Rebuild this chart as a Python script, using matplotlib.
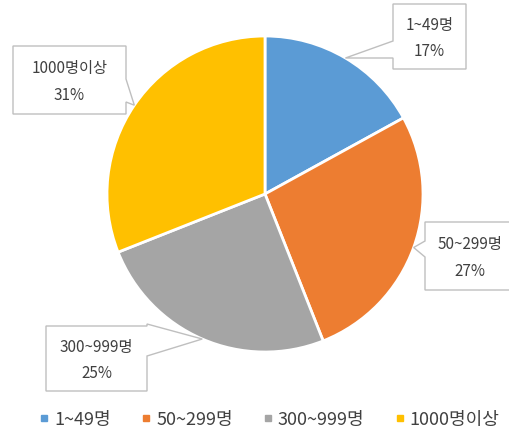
import matplotlib
matplotlib.use("Agg")
import matplotlib.pyplot as plt
from matplotlib.patches import Polygon
from matplotlib.lines import Line2D
import numpy as np

plt.rcParams['font.family'] = ['Noto Sans CJK KR', 'DejaVu Sans']

labels = ['1~49명', '50~299명', '300~999명', '1000명이상']
values = [17, 27, 25, 31]
colors = ['#5B9BD5', '#ED7D31', '#A5A5A5', '#FFC000']

W, H = 509, 439
fig = plt.figure(figsize=(W / 100, H / 100), dpi=100)
ax = fig.add_axes([0, 0, 1, 1])

cx, cy, r = 265, H - 195, 158
ax.pie(values, colors=colors, startangle=90, counterclock=False,
       center=(cx, cy), radius=r, frame=True,
       wedgeprops=dict(edgecolor='white', linewidth=2))
ax.set_xlim(0, W)
ax.set_ylim(0, H)
ax.set_aspect('equal')
ax.axis('off')

# callout boxes: (left, top, right, bottom) in pixels from top, pointer side, pointer base
boxes = [
    ((393, 5, 466, 70), 'left', (42, 59)),
    ((425, 223, 515, 291), 'left', (242, 258)),
    ((46, 327, 147, 392), 'right', (325, 357)),
    ((13, 47, 126, 115), 'right', (80, 103)),
]

total = sum(values)
cum = 0
for lab, v, (box, side, (p0, p1)) in zip(labels, values, boxes):
    mid = 90 - (cum + v / 2) / total * 360
    cum += v
    tx = cx + r * np.cos(np.radians(mid))
    ty = cy + r * np.sin(np.radians(mid))
    l, t, rr, b = box
    if side == 'left':
        pts = [(l, t), (rr, t), (rr, b), (l, b), (l, p1), (tx, H - ty), (l, p0)]
    else:
        pts = [(l, t), (rr, t), (rr, p0), (tx, H - ty), (rr, p1), (rr, b), (l, b)]
    pts = [(x, H - y) for x, y in pts]
    ax.add_patch(Polygon(pts, closed=True, facecolor='white',
                         edgecolor='#BFBFBF', linewidth=1, zorder=5))
    xm = (l + rr) / 2
    ax.text(xm, H - (t + (b - t) * 0.32), lab, ha='center', va='center',
            fontsize=11, color='#404040', zorder=6)
    ax.text(xm, H - (t + (b - t) * 0.72), '%d%%' % round(v / total * 100),
            ha='center', va='center', fontsize=11, color='#404040', zorder=6)

handles = [Line2D([], [], marker='s', linestyle='none', markersize=5,
                  markerfacecolor=c, markeredgecolor=c) for c in colors]
fig.legend(handles, labels, loc='center', bbox_to_anchor=(0.53, 19 / H),
           ncol=4, frameon=False, fontsize=13, handlelength=0.5,
           handletextpad=0.3, columnspacing=1.7, labelcolor='#404040')

fig.savefig('out.png', dpi=100)
